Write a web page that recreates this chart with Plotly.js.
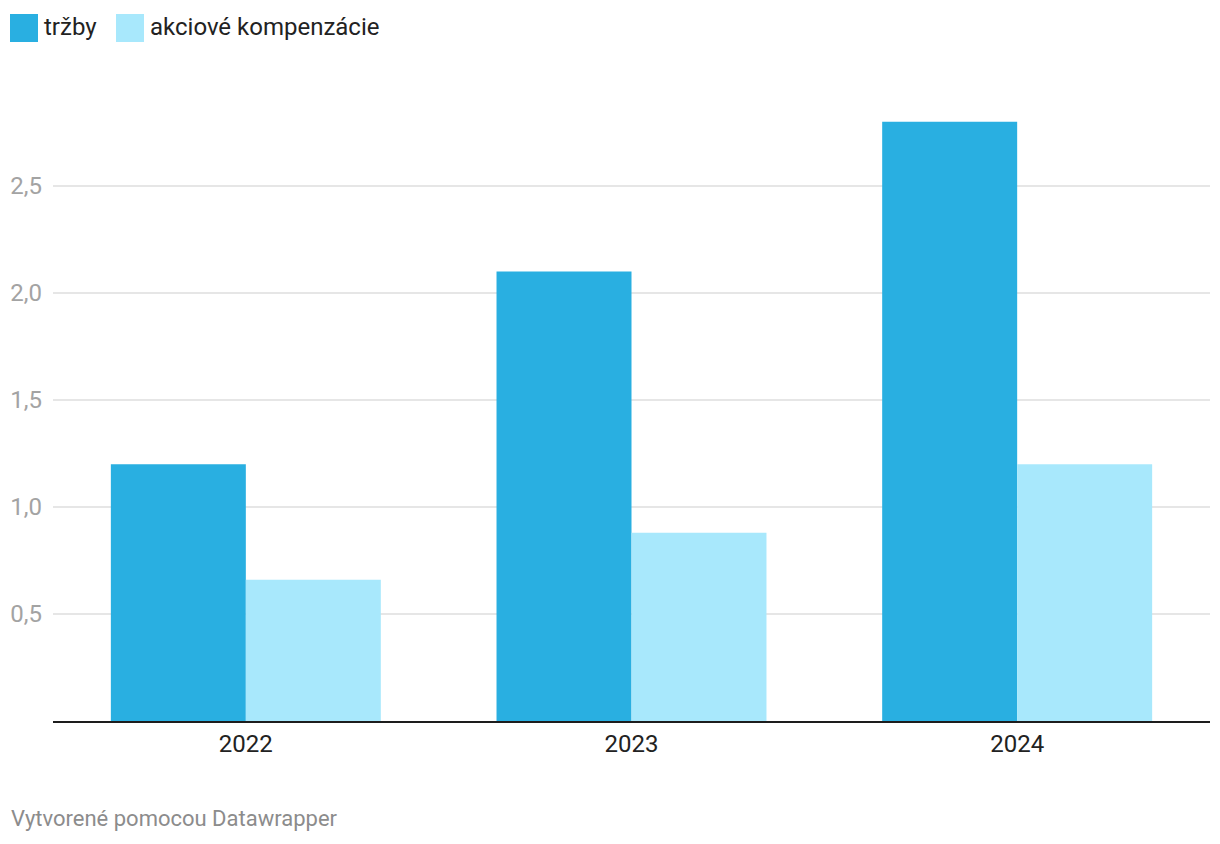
<!DOCTYPE html>
<html>
<head>
<meta charset="utf-8">
<script src="https://cdn.plot.ly/plotly-3.0.1.min.js"></script>
<style>
  html, body { margin: 0; padding: 0; background: #fff; }
  #chart { width: 1220px; height: 844px; }
</style>
</head>
<body>
<div id="chart"></div>
<script>
// data
var years = ["2022", "2023", "2024"];
var trzby = [1.2, 2.1, 2.8];
var kompenzacie = [0.66, 0.88, 1.2];
var yTicks = [0.5, 1.0, 1.5, 2.0, 2.5];
var seriesNames = ["tržby", "akciové kompenzácie"];
var seriesColors = ["#29afe1", "#a8e8fc"];

var data = [
    {x: years, y: trzby, type: "bar", name: seriesNames[0],
     marker: {color: seriesColors[0]}, hoverinfo: "y"},
    {x: years, y: kompenzacie, type: "bar", name: seriesNames[1],
     marker: {color: seriesColors[1]}, hoverinfo: "y"}
];

// custom legend: big squares + labels at top left
var legendX = [10, 116];
var shapes = [];
var annotations = [];
seriesNames.forEach(function(name, i){
    shapes.push({type: "rect", xref: "paper", yref: "paper", layer: "above",
        x0: (legendX[i] - 53) / 1157, x1: (legendX[i] + 28 - 53) / 1157,
        y0: (721 - 14) / 621, y1: (721 - 42) / 621,
        fillcolor: seriesColors[i], line: {width: 0}});
    annotations.push({text: name, xref: "paper", yref: "paper",
        x: (legendX[i] + 32 - 53) / 1157, y: (721 - 27) / 621,
        xanchor: "left", yanchor: "middle", showarrow: false,
        font: {size: 24, color: "#222"}});
});

annotations.push({text: "Vytvorené pomocou Datawrapper", xref: "paper", yref: "paper",
    x: (9 - 53) / 1157, y: (721 - 818) / 621, xanchor: "left", yanchor: "middle",
    showarrow: false, font: {size: 22, color: "#8c8c8c"}});

var layout = {
    width: 1220,
    height: 844,
    margin: {l: 53, r: 10, t: 100, b: 123},
    paper_bgcolor: "#fff",
    plot_bgcolor: "#fff",
    font: {family: "Roboto, sans-serif", size: 24, color: "#222"},
    separators: ",.",
    showlegend: false,
    barmode: "group",
    bargap: 0.3,
    bargroupgap: 0,
    xaxis: {
        type: "category",
        showline: true, linecolor: "#1d1d1d", linewidth: 2,
        showgrid: false, zeroline: false,
        ticks: "", tickfont: {size: 24, color: "#222"},
        fixedrange: true
    },
    yaxis: {
        range: [0, 2.902],
        tickvals: yTicks,
        tickformat: ".1f",
        showgrid: true, gridcolor: "#e6e6e6", gridwidth: 2,
        zeroline: false, showline: false,
        ticks: "", ticklabelstandoff: 10,
        tickfont: {size: 24, color: "#a3a3a3"},
        fixedrange: true
    },
    shapes: shapes,
    annotations: annotations
};

Plotly.newPlot("chart", data, layout, {displayModeBar: false, staticPlot: true});
</script>
</body>
</html>
